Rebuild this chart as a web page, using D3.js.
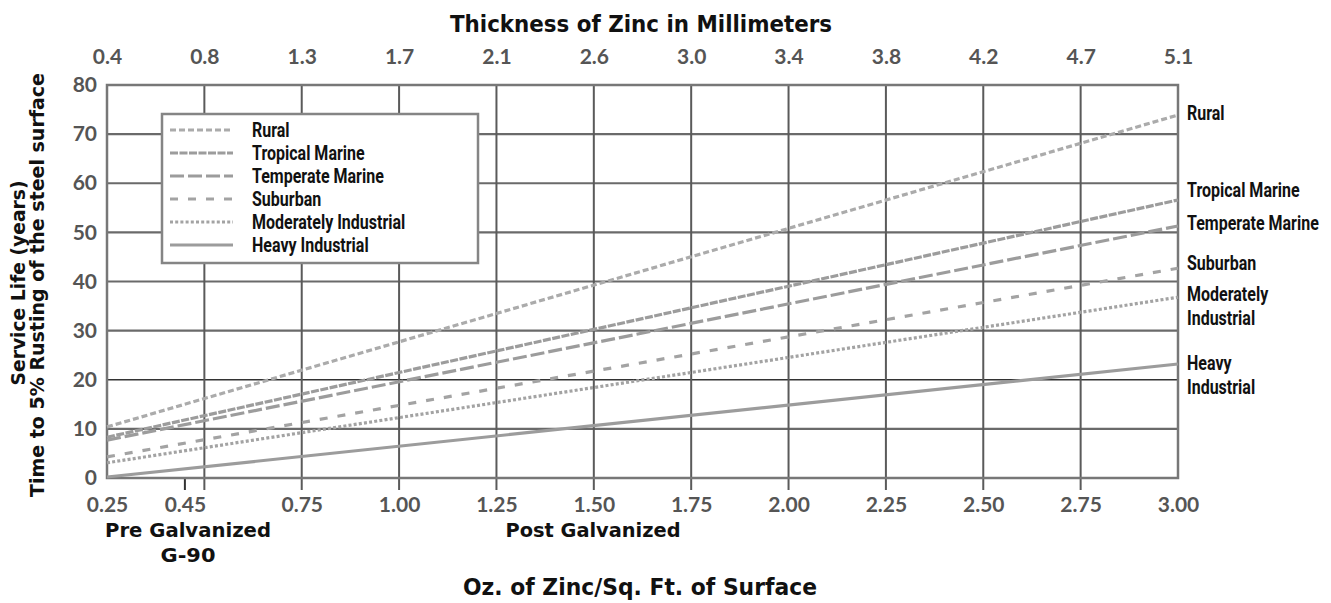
<!DOCTYPE html>
<html>
<head>
<meta charset="utf-8">
<script src="https://cdn.jsdelivr.net/npm/d3@7"></script>
<style>
  body { margin: 0; background: #fff; }
  .tick-num { font-family: Lato, "DejaVu Sans", sans-serif; font-weight: 700; fill: #555; }
  .title { font-family: "DejaVu Sans", sans-serif; font-weight: 700; fill: #111; }
  .cond { font-family: Roboto, "Liberation Sans", sans-serif; font-weight: 700; fill: #111; }
</style>
</head>
<body>
<svg id="chart" width="1331" height="603"></svg>
<script>
// values: service life (years) at 0.25 and 3.00 oz/sq ft
const seriesNames = ['Rural', 'Tropical Marine', 'Temperate Marine', 'Suburban', 'Moderately Industrial', 'Heavy Industrial'];
const ozPoints = [0.25, 3.00];
const rural = [10.4, 73.9];
const tropicalMarine = [8.3, 56.6];
const temperateMarine = [7.7, 51.3];
const suburban = [4.3, 42.7];
const moderatelyIndustrial = [3.1, 36.8];
const heavyIndustrial = [0.2, 23.2];

const yTicks = [0, 10, 20, 30, 40, 50, 60, 70, 80];
const topTickOz = [0.25, 0.5, 0.75, 1.0, 1.25, 1.5, 1.75, 2.0, 2.25, 2.5, 2.75, 3.0];
const topTickLabels = ['0.4', '0.8', '1.3', '1.7', '2.1', '2.6', '3.0', '3.4', '3.8', '4.2', '4.7', '5.1'];
const bottomTickOz = [0.25, 0.45, 0.75, 1.0, 1.25, 1.5, 1.75, 2.0, 2.25, 2.5, 2.75, 3.0];
const bottomTickLabels = ['0.25', '0.45', '0.75', '1.00', '1.25', '1.50', '1.75', '2.00', '2.25', '2.50', '2.75', '3.00'];
const rightLabels = [['Rural'], ['Tropical Marine'], ['Temperate Marine'], ['Suburban'], ['Moderately', 'Industrial'], ['Heavy', 'Industrial']];

const seriesValues = [rural, tropicalMarine, temperateMarine, suburban, moderatelyIndustrial, heavyIndustrial];

// styles
const dashes = ['6,3', '8,1.5', '14,4', '8,10', '3,2.2', null];
const lineColors = ['#ababab', '#9c9c9c', '#9c9c9c', '#a3a3a3', '#a3a3a3', '#9c9c9c'];
const labelNudge = [-2, -10, -3, -5, -3, -1];
const condScale = 0.8;

const svg = d3.select('#chart');
const margin = {left: 107, top: 85, right: 1331 - 1178, bottom: 603 - 478};
const width = 1331 - margin.left - margin.right;
const height = 603 - margin.top - margin.bottom;

const x = d3.scaleLinear().domain([0.25, 3.0]).range([margin.left, margin.left + width]);
const y = d3.scaleLinear().domain([0, 80]).range([margin.top + height, margin.top]);

// horizontal grid
svg.append('g')
  .selectAll('line')
  .data(yTicks.filter(d => d > 0 && d < 80))
  .join('line')
  .attr('x1', x(0.25)).attr('x2', x(3.0))
  .attr('y1', d => y(d)).attr('y2', d => y(d))
  .style('stroke', d => d === 20 ? '#333' : '#6a6a6a')
  .style('stroke-width', d => d === 20 ? 1.3 : 2.2);

// vertical grid (extends a little under the bottom axis)
svg.append('g')
  .selectAll('line')
  .data(topTickOz.slice(1, -1))
  .join('line')
  .attr('x1', d => x(d)).attr('x2', d => x(d))
  .attr('y1', y(80)).attr('y2', y(0) + 12)
  .style('stroke', '#5a5a5a')
  .style('stroke-width', 2);

// short tick for G-90
svg.append('line')
  .attr('x1', x(0.45)).attr('x2', x(0.45))
  .attr('y1', y(0)).attr('y2', y(0) + 12)
  .style('stroke', '#333')
  .style('stroke-width', 2);

// frame
svg.append('rect')
  .attr('x', x(0.25)).attr('y', y(80))
  .attr('width', width).attr('height', height)
  .style('fill', 'none')
  .style('stroke', '#777')
  .style('stroke-width', 2.5);

// series lines
const line = d3.line()
  .x((d, i) => x(ozPoints[i]))
  .y(d => y(d));

svg.append('g')
  .selectAll('path')
  .data(seriesValues)
  .join('path')
  .attr('d', d => line(d))
  .style('fill', 'none')
  .style('stroke', (d, i) => lineColors[i])
  .style('stroke-width', 3.2)
  .style('stroke-dasharray', (d, i) => dashes[i]);

// axes
const yAxis = d3.axisLeft(y).tickValues(yTicks).tickSize(0).tickPadding(10);
svg.append('g')
  .attr('transform', `translate(${margin.left},0)`)
  .call(yAxis)
  .call(g => g.select('.domain').remove())
  .selectAll('text')
  .attr('class', 'tick-num')
  .style('font-size', '21px');

const xAxisBottom = d3.axisBottom(x)
  .tickValues(bottomTickOz)
  .tickFormat((d, i) => bottomTickLabels[i])
  .tickSize(0)
  .tickPadding(19);
svg.append('g')
  .attr('transform', `translate(0,${margin.top + height})`)
  .call(xAxisBottom)
  .call(g => g.select('.domain').remove())
  .selectAll('text')
  .attr('class', 'tick-num')
  .style('font-size', '21px');

const xAxisTop = d3.axisTop(x)
  .tickValues(topTickOz)
  .tickFormat((d, i) => topTickLabels[i])
  .tickSize(0)
  .tickPadding(21);
svg.append('g')
  .attr('transform', `translate(0,${margin.top})`)
  .call(xAxisTop)
  .call(g => g.select('.domain').remove())
  .selectAll('text')
  .attr('class', 'tick-num')
  .style('font-size', '21px');

// titles, stretched to the widths they take in the picture
function title(txt, tx, ty, size, len, rot) {
  svg.append('text')
    .attr('class', 'title')
    .attr('transform', `translate(${tx},${ty})` + (rot ? ' rotate(-90)' : ''))
    .attr('text-anchor', 'middle')
    .attr('textLength', len)
    .attr('lengthAdjust', 'spacingAndGlyphs')
    .style('font-size', size + 'px')
    .text(txt);
}

title('Thickness of Zinc in Millimeters', 641, 32, 23, 382);
title('Oz. of Zinc/Sq. Ft. of Surface', 640, 595, 23, 354);
title('Service Life (years)', 25, 283, 20, 205, true);
title('Time to 5% Rusting of the steel surface', 44, 285, 20, 424, true);
title('Pre Galvanized', 188, 537, 19, 166);
title('G-90', 188, 562, 19, 55);
title('Post Galvanized', 593, 537, 19, 175);

// labels at line ends, one text per line of a label
const endLabels = svg.append('g')
  .selectAll('g')
  .data(rightLabels)
  .join('g')
  .attr('transform', (d, i) => `translate(${x(3.0) + 9},${y(seriesValues[i][1]) + labelNudge[i]})`);

endLabels.selectAll('text')
  .data(d => d)
  .join('text')
  .attr('class', 'cond')
  .attr('transform', (d, j) => `translate(0,${j * 23.5}) scale(${condScale},1)`)
  .attr('dy', '0.35em')
  .style('font-size', '20px')
  .text(d => d);

// legend
const legend = svg.append('g');
legend.append('rect')
  .attr('x', 162).attr('y', 114)
  .attr('width', 316).attr('height', 149)
  .style('fill', '#fff')
  .style('stroke', '#858585')
  .style('stroke-width', 2.5);

const rows = legend.selectAll('g.row')
  .data(seriesNames)
  .join('g')
  .attr('class', 'row')
  .attr('transform', (d, i) => `translate(0,${130 + i * 23})`);

rows.append('line')
  .attr('x1', 170).attr('x2', 233)
  .style('stroke', (d, i) => lineColors[i])
  .style('stroke-width', 3.2)
  .style('stroke-dasharray', (d, i) => dashes[i]);

rows.append('text')
  .attr('class', 'cond')
  .attr('transform', `translate(252,0) scale(${condScale},1)`)
  .attr('dy', '0.35em')
  .style('font-size', '20px')
  .text(d => d);
</script>
</body>
</html>
